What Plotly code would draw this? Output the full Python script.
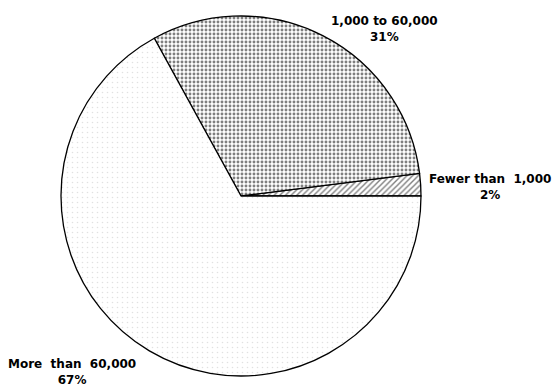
import plotly.graph_objects as go

# Share of records by size class
categories = ["Fewer than  1,000", "1,000 to 60,000", "More  than  60,000"]
shares = [2, 31, 67]

# Fill pattern per slice
pattern_shapes = ["/", ".", "."]
pattern_fg = ["#000000", "#000000", "#c4c4c4"]
pattern_size = [4, 4, 5]
pattern_solidity = [0.35, 0.42, 0.08]

# Label block centres (pixels, from top-left)
label_px = [(490, 187), (384, 29), (72, 372)]

W, H = 553, 388
cx, cy, r = 241, 196, 180

fig = go.Figure(
    go.Pie(
        labels=categories,
        values=shares,
        sort=False,
        direction="counterclockwise",
        rotation=90 - 360 * shares[0] / sum(shares),
        textinfo="none",
        hoverinfo="label+percent",
        marker=dict(
            colors=["white"] * 3,
            line=dict(color="black", width=1.3),
            pattern=dict(
                shape=pattern_shapes,
                fgcolor=pattern_fg,
                bgcolor=["white"] * 3,
                size=pattern_size,
                solidity=pattern_solidity,
                fillmode="overlay",
            ),
        ),
        domain=dict(
            x=[(cx - r) / W, (cx + r) / W],
            y=[1 - (cy + r) / H, 1 - (cy - r) / H],
        ),
        showlegend=False,
    )
)

for name, pct, (px, py) in zip(categories, shares, label_px):
    fig.add_annotation(
        x=px / W,
        y=1 - py / H,
        xref="paper",
        yref="paper",
        xanchor="center",
        yanchor="middle",
        text=f"<b>{name}<br>{pct}%</b>",
        showarrow=False,
        align="center",
        font=dict(family="DejaVu Sans, sans-serif", size=12, color="black"),
    )

fig.update_layout(
    width=W,
    height=H,
    margin=dict(l=0, r=0, t=0, b=0),
    paper_bgcolor="white",
    plot_bgcolor="white",
)

fig.write_html("out.html")
